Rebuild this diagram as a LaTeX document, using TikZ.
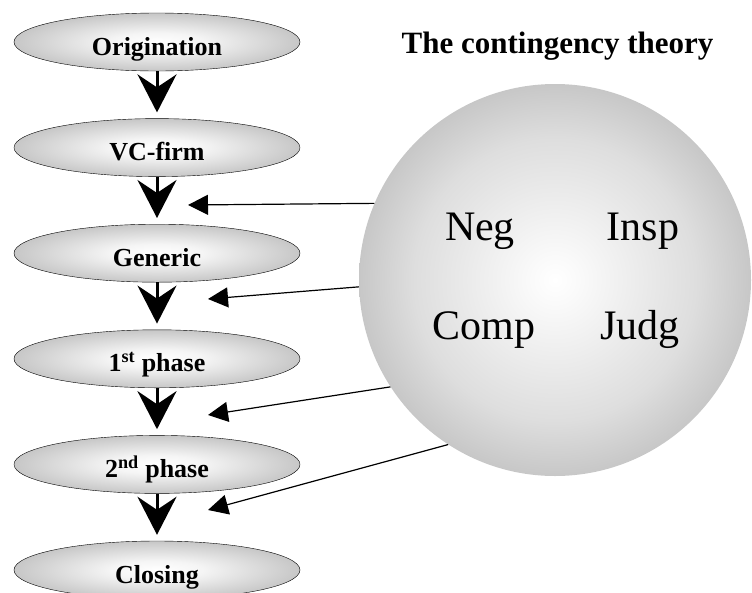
\documentclass[tikz,border=0pt]{standalone}
\usepackage{fontspec}
\setmainfont{Liberation Serif}
\usetikzlibrary{shapes.geometric,arrows.meta}

\pgfdeclareradialshading{ballshade}{\pgfpoint{0bp}{0bp}}{color(0bp)=(white); color(3bp)=(white!98!black); color(18bp)=(black!13); color(36bp)=(black!36); color(50bp)=(black!38)}
\pgfdeclareradialshading{stageshade}{\pgfpoint{0bp}{0bp}}{color(0bp)=(white); color(8bp)=(white!96!black); color(40bp)=(black!38); color(50bp)=(black!44)}

\begin{document}
\begin{tikzpicture}[x=1pt,y=-1pt,
  stage/.style={ellipse,draw,thin,shading=stageshade,minimum width=286pt,minimum height=58pt,inner sep=0pt,text height=26pt,text depth=0pt,font=\fontsize{26}{28}\selectfont\bfseries},
  flow/.style={line width=3pt,-{Stealth[length=38pt,width=39pt,inset=13pt]},shorten >=6pt},
  feed/.style={line width=1.2pt,-{Triangle[length=20pt,width=20pt]}},
  factor/.style={font=\fontsize{42}{44}\selectfont,anchor=base}]
\useasboundingbox (0,0) rectangle (752,592);

% stages of the process
\node[stage] (orig) at (157,42) {Origination};
\node[stage] (vc) at (157,147.6) {VC-firm};
\node[stage] (gen) at (157,253.2) {Generic};
\node[stage] (ph1) at (157,358.8) {1\textsuperscript{st} phase};
\node[stage] (ph2) at (157,464.4) {2\textsuperscript{nd} phase};
\node[stage] (close) at (157,570) {Closing};
\foreach \a/\b in {orig/vc,vc/gen,gen/ph1,ph1/ph2,ph2/close}
  \draw[flow] (\a) -- (\b);

% contingency ball
\node[font=\fontsize{31}{33}\selectfont\bfseries,anchor=base] (title) at (557.5,53) {The contingency theory};
\node[circle,shading=ballshade,minimum size=392pt,inner sep=0pt] (ball) at (555,280) {};
\node[factor] (neg) at (480,240) {Neg};
\node[factor] (insp) at (643,240) {Insp};
\node[factor] (comp) at (484,339) {Comp};
\node[factor] (judg) at (640,339) {Judg};

\coordinate (t1) at (188,205);
\coordinate (t2) at (208,299);
\coordinate (t3) at (208,415);
\coordinate (t4) at (208,510);
\draw[feed] (ball.157.6) -- (t1);
\draw[feed] (ball.182) -- (t2);
\draw[feed] (ball.213.4) -- (t3);
\draw[feed] (ball.237) -- (t4);
\end{tikzpicture}
\end{document}
